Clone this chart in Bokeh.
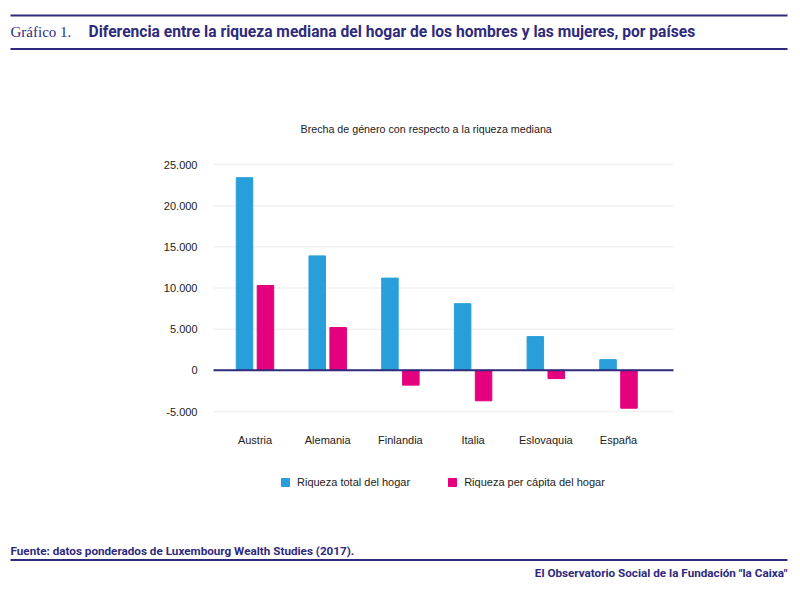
from bokeh.core.properties import value
from bokeh.embed import file_html
from bokeh.models import (ColumnDataSource, FixedTicker, Legend, LegendItem, LinearAxis, Range1d)
from bokeh.plotting import figure
from bokeh.resources import INLINE
from bokeh.transform import dodge

PURPLE = '#2e2a7c'
BLUE = '#289fda'
PINK = '#e5007e'
TEXT = '#222222'
GRID = '#f1f1f1'

# Data
countries = ['Austria', 'Alemania', 'Finlandia', 'Italia', 'Eslovaquia', 'España']
riqueza_total = [23400, 13900, 11200, 8100, 4100, 1300]
riqueza_per_capita = [10300, 5200, -1800, -3700, -1000, -4600]
y_ticks = [-5000, 0, 5000, 10000, 15000, 20000, 25000]
y_tick_labels = ['-5.000', '0', '5.000', '10.000', '15.000', '20.000', '25.000']

chart_title = 'Brecha de género con respecto a la riqueza mediana'
header_label = 'Gráfico 1.'
header_title = 'Diferencia entre la riqueza mediana del hogar de los hombres y las mujeres, por países'
source_note = 'Fuente:  datos ponderados de Luxembourg Wealth Studies (2017).'
credit = 'El Observatorio Social de la Fundación "la Caixa"'
legend_labels = ['Riqueza total del hogar', 'Riqueza per cápita del hogar']

# The frame covers the whole canvas; ranges are set so the chart lands where it is in the reference
W, H = 800, 591
PX_FIRST, PX_STEP = 254.5, 72.7        # centre of first group, distance between groups
PY_TOP, PY_BOTTOM = 164, 411           # pixel rows of the 25.000 and -5.000 grid lines
X0 = -PX_FIRST / PX_STEP
X1 = (W - PX_FIRST) / PX_STEP
Y_PER_PX = (y_ticks[-1] - y_ticks[0]) / (PY_BOTTOM - PY_TOP)
Y1 = y_ticks[-1] + PY_TOP * Y_PER_PX
Y0 = y_ticks[-1] - (H - PY_TOP) * Y_PER_PX


def fx(px):
    return X0 + px / W * (X1 - X0)


def fy(py):
    return Y1 - py / H * (Y1 - Y0)


PLOT_L, PLOT_R, PLOT_B = fx(213), fx(673), fy(425)

p = figure(width=W, height=H, output_backend='svg', toolbar_location=None,
           x_range=Range1d(X0, X1), y_range=Range1d(Y0, Y1),
           x_axis_type=None, y_axis_type=None, min_border=0)
p.outline_line_color = None

# Grid lines
grid_source = ColumnDataSource(data=dict(y=y_ticks))
p.segment(x0=PLOT_L, x1=PLOT_R, y0='y', y1='y', source=grid_source, line_color=GRID, line_width=1.5)

# Bars
source = ColumnDataSource(data=dict(x=list(range(len(countries))), total=riqueza_total,
                                    capita=riqueza_per_capita))
r_total = p.vbar(x=dodge('x', -0.144), top='total', bottom=0, width=0.227, color=BLUE, source=source)
r_capita = p.vbar(x=dodge('x', 0.144), top='capita', bottom=0, width=0.227, color=PINK, source=source)

# Zero line
p.segment(x0=[PLOT_L], x1=[PLOT_R], y0=[0], y1=[0], line_color=PURPLE, line_width=2)

# Axes drawn at fixed places inside the frame
yaxis = LinearAxis(fixed_location=PLOT_L, ticker=FixedTicker(ticks=y_ticks),
                   major_label_overrides=dict(zip(y_ticks, y_tick_labels)), major_label_standoff=10)
xaxis = LinearAxis(fixed_location=PLOT_B, ticker=FixedTicker(ticks=list(range(len(countries)))),
                   major_label_overrides={i: c for i, c in enumerate(countries)}, major_label_standoff=2)
for ax in (xaxis, yaxis):
    ax.axis_line_color = None
    ax.major_tick_line_color = None
    ax.minor_tick_line_color = None
    ax.major_label_text_font = 'Liberation Sans'
    ax.major_label_text_font_size = '11px'
    ax.major_label_text_color = TEXT
p.add_layout(yaxis, 'left')
p.add_layout(xaxis, 'below')

legend = Legend(items=[LegendItem(label=legend_labels[0], renderers=[r_total]),
                       LegendItem(label=legend_labels[1], renderers=[r_capita])],
                orientation='horizontal', location=(280, H - 488), spacing=37, label_standoff=7,
                glyph_width=10, glyph_height=10, border_line_color=None, background_fill_alpha=0,
                label_text_font='Liberation Sans', label_text_font_size='11px', label_text_color=TEXT,
                margin=0, padding=0)
p.add_layout(legend, 'center')

# Chart title
p.text(x=[fx(300)], y=[fy(128)], text=[chart_title], text_font=value('Liberation Sans'),
       text_font_size='10.7px', text_color=TEXT, text_baseline='middle')

# Header
p.segment(x0=[fx(10), fx(10)], x1=[fx(787), fx(787)], y0=[fy(15), fy(48.5)], y1=[fy(15), fy(48.5)],
          line_color=PURPLE, line_width=2)
p.text(x=[fx(10)], y=[fy(31)], text=[header_label], text_font=value('Liberation Serif'),
       text_font_size='15px', text_color=PURPLE, text_baseline='middle')
p.text(x=[fx(88)], y=[fy(31)], text=[header_title], text_font=value('Roboto'), text_font_style='bold',
       text_font_size='15.6px', text_color=PURPLE, text_baseline='middle')

# Footer
p.text(x=[fx(10)], y=[fy(550)], text=[source_note], text_font=value('Roboto'), text_font_style='bold',
       text_font_size='11.7px', text_color=PURPLE, text_baseline='middle')
p.segment(x0=[fx(10)], x1=[fx(787)], y0=[fy(559.5)], y1=[fy(559.5)], line_color=PURPLE, line_width=2)
p.text(x=[fx(787)], y=[fy(572)], text=[credit], text_font=value('Roboto'), text_font_style='bold',
       text_font_size='11.7px', text_color=PURPLE, text_baseline='middle', text_align='right')

open("out.html", "w").write(file_html(p, INLINE))
